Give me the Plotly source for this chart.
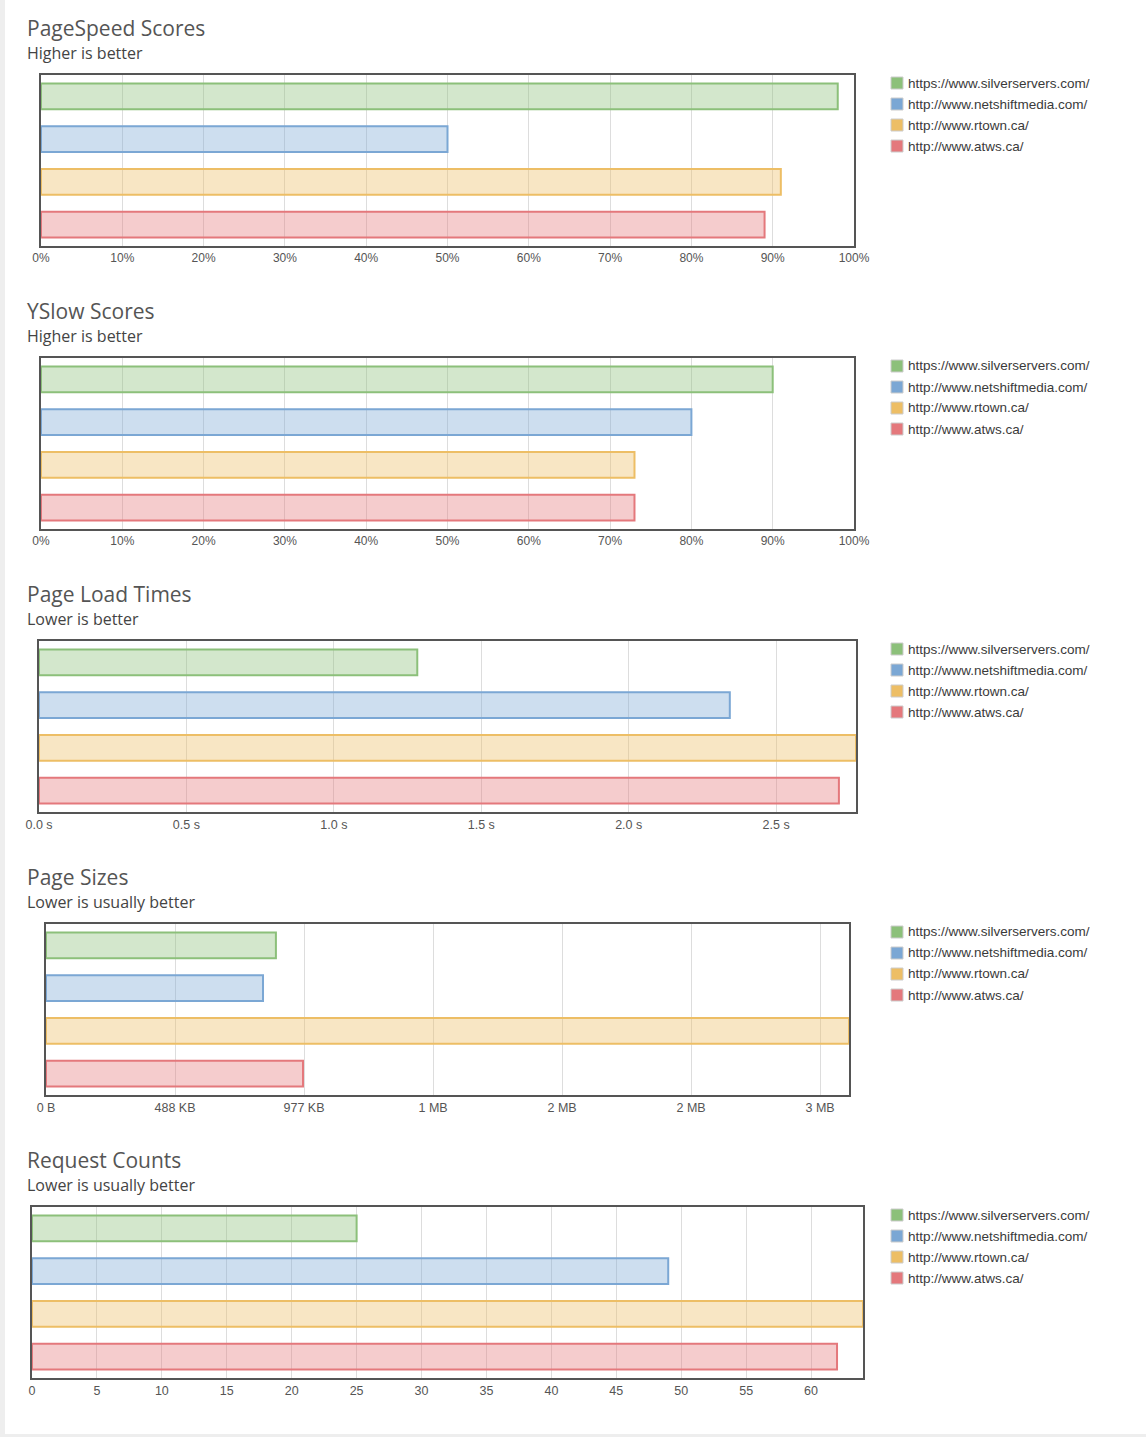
import plotly.graph_objects as go

W, H = 1146, 1437

# ---------------- data ----------------
sites = ["https://www.silverservers.com/", "http://www.netshiftmedia.com/",
         "http://www.rtown.ca/", "http://www.atws.ca/"]
line_colors = ["#8cc07a", "#7ba7d4", "#edbe65", "#e4787c"]
fill_colors = ["rgba(140,192,122,0.38)", "rgba(123,167,212,0.38)",
               "rgba(237,190,101,0.38)", "rgba(228,120,124,0.38)"]

titles = ["PageSpeed Scores", "YSlow Scores", "Page Load Times", "Page Sizes", "Request Counts"]
subtitles = ["Higher is better", "Higher is better", "Lower is better",
             "Lower is usually better", "Lower is usually better"]

pagespeed = [98, 50, 91, 89]          # percent
yslow = [90, 80, 73, 73]              # percent
load_times = [1.283, 2.343, 2.771, 2.713]   # seconds
page_sizes = [891000, 841000, 3112000, 996000]  # bytes
request_counts = [25, 49, 64, 62]

pct_ticks = [0, 10, 20, 30, 40, 50, 60, 70, 80, 90, 100]
pct_labels = ["0%", "10%", "20%", "30%", "40%", "50%", "60%", "70%", "80%", "90%", "100%"]
time_ticks = [0, 0.5, 1.0, 1.5, 2.0, 2.5]
time_labels = ["0.0 s", "0.5 s", "1.0 s", "1.5 s", "2.0 s", "2.5 s"]
size_ticks = [0, 500000, 1000000, 1500000, 2000000, 2500000, 3000000]
size_labels = ["0 B", "488 KB", "977 KB", "1 MB", "2 MB", "2 MB", "3 MB"]
count_ticks = [0, 5, 10, 15, 20, 25, 30, 35, 40, 45, 50, 55, 60]
count_labels = [str(v) for v in count_ticks]

charts = [
    dict(values=pagespeed, rng=[0, 100], tv=pct_ticks, tt=pct_labels, narrow=False),
    dict(values=yslow, rng=[0, 100], tv=pct_ticks, tt=pct_labels, narrow=False),
    dict(values=load_times, rng=[0, max(load_times)], tv=time_ticks, tt=time_labels, narrow=True),
    dict(values=page_sizes, rng=[0, max(page_sizes)], tv=size_ticks, tt=size_labels, narrow=True),
    dict(values=request_counts, rng=[0, max(request_counts)], tv=count_ticks, tt=count_labels, narrow=True),
]

# pixel layout (styles / positions)
plot_x = [(41, 854), (41, 854), (39, 856), (46, 849), (32, 863)]
plot_top0 = 75
section_step = 283
plot_h = 171

TITLE_FONT = "Open Sans, Noto Sans, sans-serif"
TICK_FONT = "Liberation Sans, Arial, sans-serif"
NARROW_FONT = "Liberation Sans Narrow, Arial Narrow, Liberation Sans, sans-serif"

fig = go.Figure()
layout = dict(
    template="none",
    width=W, height=H, autosize=False,
    margin=dict(l=0, r=0, t=0, b=0, pad=0, autoexpand=False),
    paper_bgcolor="white", plot_bgcolor="white",
    showlegend=False,
    bargap=0.4,
)
annotations = []
shapes = []

def px_x(x):
    return x / W

def px_y(y):
    return 1 - y / H

for i, ch in enumerate(charts):
    n = i + 1
    xa = "x" if n == 1 else f"x{n}"
    ya = "y" if n == 1 else f"y{n}"
    top = plot_top0 + i * section_step
    bot = top + plot_h
    x0, x1 = plot_x[i]
    fig.add_trace(go.Bar(
        x=ch["values"], y=sites, orientation="h",
        marker=dict(color=fill_colors, line=dict(color=line_colors, width=2)),
        width=0.6, xaxis=xa, yaxis=ya, hoverinfo="x+y",
    ))
    xkey = "xaxis" if n == 1 else f"xaxis{n}"
    ykey = "yaxis" if n == 1 else f"yaxis{n}"
    layout[xkey] = dict(
        domain=[px_x(x0), px_x(x1)], anchor=ya, range=ch["rng"],
        tickmode="array", tickvals=ch["tv"], ticktext=ch["tt"], ticks="",
        showgrid=True, gridcolor="#dddddd", gridwidth=1,
        showline=True, mirror=True, linecolor="#555555", linewidth=2,
        zeroline=False, automargin=False,
        tickfont=dict(family=NARROW_FONT if ch["narrow"] else TICK_FONT,
                      size=12.5 if ch["narrow"] else 12, color="#555555"),
        fixedrange=True,
    )
    layout[ykey] = dict(
        domain=[px_y(bot), px_y(top)], anchor=xa,
        categoryorder="array", categoryarray=sites, autorange="reversed",
        showticklabels=False, ticks="", showgrid=False,
        showline=True, mirror=True, linecolor="#555555", linewidth=2,
        zeroline=False, automargin=False, fixedrange=True,
    )
    # title and subtitle
    annotations.append(dict(
        text=titles[i], xref="paper", yref="paper", x=px_x(25), y=px_y(top - 47),
        xanchor="left", yanchor="middle", showarrow=False,
        font=dict(family=TITLE_FONT, size=21, color="#555555"),
    ))
    annotations.append(dict(
        text=subtitles[i], xref="paper", yref="paper", x=px_x(25), y=px_y(top - 22),
        xanchor="left", yanchor="middle", showarrow=False,
        font=dict(family=TITLE_FONT, size=16, color="#444444"),
    ))
    # legend (squares + labels)
    for k, site in enumerate(sites):
        cy = top + 8 + k * 21
        shapes.append(dict(
            type="rect", xref="paper", yref="paper",
            x0=px_x(891), x1=px_x(903), y0=px_y(cy + 6), y1=px_y(cy - 6),
            fillcolor=line_colors[k], line=dict(color="#cccccc", width=1),
        ))
        annotations.append(dict(
            text=site, xref="paper", yref="paper", x=px_x(906), y=px_y(cy),
            xanchor="left", yanchor="middle", showarrow=False,
            font=dict(family=TICK_FONT, size=13.5, color="#3a3a3a"),
        ))

# page frame: light grey strips at left and bottom
shapes.append(dict(type="rect", xref="paper", yref="paper", x0=0, x1=px_x(5), y0=0, y1=1,
                   fillcolor="#eeeeee", line=dict(width=0), layer="below"))
shapes.append(dict(type="rect", xref="paper", yref="paper", x0=0, x1=1, y0=0, y1=px_y(1434),
                   fillcolor="#eeeeee", line=dict(width=0), layer="below"))

layout["annotations"] = annotations
layout["shapes"] = shapes
fig.update_layout(**layout)
fig.write_html("out.html", config={"displayModeBar": False, "responsive": False},
               post_script="document.body.style.margin='0';document.body.style.overflow='hidden';")
